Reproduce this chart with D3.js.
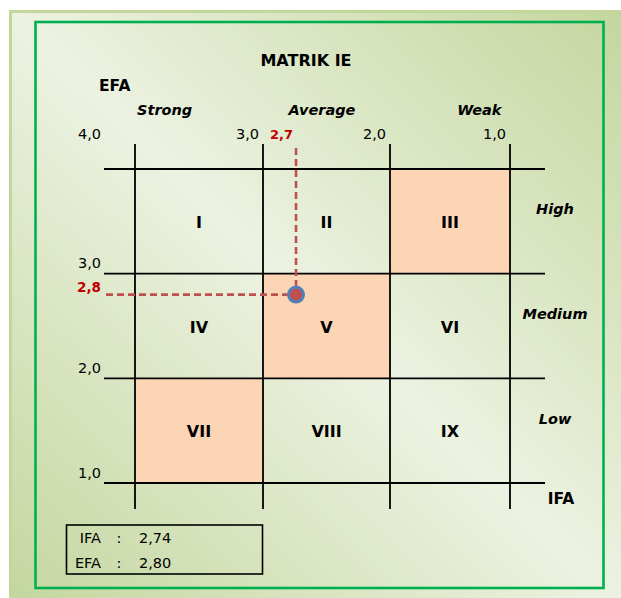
<!DOCTYPE html>
<html>
<head>
<meta charset="utf-8">
<script src="https://cdn.jsdelivr.net/npm/d3@7"></script>
<style>
  html, body { margin: 0; padding: 0; background: #ffffff; }
  svg { display: block; }
  text { font-family: "DejaVu Sans", sans-serif; fill: #000; }
</style>
</head>
<body>
<svg id="chart" width="621" height="598"></svg>
<script>
// IE matrix: IFA (internal) score across, EFA (external) score down
const columnNames = ["Strong", "Average", "Weak"];
const rowNames = ["High", "Medium", "Low"];
const cellNumerals = [
  ["I", "II", "III"],
  ["IV", "V", "VI"],
  ["VII", "VIII", "IX"]
];
const highlightedCells = ["III", "V", "VII"];
const scoreTicks = [4, 3, 2, 1];
const ifaScore = 2.74;
const efaScore = 2.80;
const titleText = "MATRIK IE";

const svg = d3.select("#chart");
const locale = d3.formatLocale({ decimal: ",", thousands: ".", grouping: [3], currency: ["Rp", ""] });
const fmt1 = locale.format(".1f");
const fmt2 = locale.format(".2f");

// Scales: scores run from 4 (left / top) to 1 (right / bottom)
const x = d3.scaleLinear().domain([4, 3, 2, 1]).range([135, 263, 390, 510]);
const y = d3.scaleLinear().domain([4, 1]).range([169, 483]);
const axisStart = 104, axisEnd = 545;
const gridTop = 144, gridBottom = 509;

// Background panel
const defs = svg.append("defs");
const grad = defs.append("linearGradient").attr("id", "panelFill")
  .attr("x1", 1).attr("y1", 0).attr("x2", 0).attr("y2", 1);
grad.append("stop").attr("offset", 0.0).attr("stop-color", "#c2d59b");
grad.append("stop").attr("offset", 0.5).attr("stop-color", "#ecf2e1");
grad.append("stop").attr("offset", 1.0).attr("stop-color", "#c2d59b");

svg.append("rect").attr("x", 10.5).attr("y", 11.5).attr("width", 640).attr("height", 620)
  .attr("fill", "url(#panelFill)").attr("stroke", "#c3d69b").attr("stroke-width", 3);
svg.append("rect").attr("x", 35.5).attr("y", 22).attr("width", 568).attr("height", 566)
  .attr("fill", "none").attr("stroke", "#00b050").attr("stroke-width", 2.6);

// Matrix cells
const cells = [];
cellNumerals.forEach((row, r) => row.forEach((name, c) => {
  cells.push({ name, x0: x(scoreTicks[c]), x1: x(scoreTicks[c + 1]), y0: y(scoreTicks[r]), y1: y(scoreTicks[r + 1]) });
}));

svg.append("g").selectAll("rect")
  .data(cells.filter(d => highlightedCells.includes(d.name)))
  .join("rect")
  .attr("x", d => d.x0).attr("y", d => d.y0)
  .attr("width", d => d.x1 - d.x0).attr("height", d => d.y1 - d.y0)
  .attr("fill", "#fcd5b5");

// Grid lines
const grid = svg.append("g").attr("stroke", "#000").attr("stroke-width", 1.8);
grid.selectAll("line.h").data(scoreTicks).join("line").attr("class", "h")
  .attr("x1", axisStart).attr("x2", axisEnd)
  .attr("y1", d => y(d)).attr("y2", d => y(d));
grid.selectAll("line.v").data(scoreTicks).join("line").attr("class", "v")
  .attr("x1", d => x(d)).attr("x2", d => x(d))
  .attr("y1", gridTop).attr("y2", gridBottom);

// Cell numerals
svg.append("g").selectAll("text").data(cells).join("text")
  .attr("x", d => (d.x0 + d.x1) / 2)
  .attr("y", d => (d.y0 + d.y1) / 2 + 6.5)
  .attr("text-anchor", "middle")
  .attr("font-size", 16).attr("font-weight", "bold")
  .text(d => d.name);

// Title and axis names
svg.append("text").attr("x", 306).attr("y", 66).attr("text-anchor", "middle")
  .attr("font-size", 16).attr("font-weight", "bold").text(titleText);
svg.append("text").attr("x", 99).attr("y", 91)
  .attr("font-size", 15.5).attr("font-weight", "bold").text("EFA");
svg.append("text").attr("x", 561).attr("y", 504).attr("text-anchor", "middle")
  .attr("font-size", 15.5).attr("font-weight", "bold").text("IFA");

// Column headers spread across the header row
const headerBand = d3.scaleBand().domain(columnNames).range([86, 558]);
svg.append("g").selectAll("text").data(columnNames).join("text")
  .attr("x", d => headerBand(d) + headerBand.bandwidth() / 2)
  .attr("y", 115).attr("text-anchor", "middle")
  .attr("font-size", 14.5).attr("font-weight", "bold").attr("font-style", "italic")
  .text(d => d);

// Row headers
svg.append("g").selectAll("text").data(rowNames).join("text")
  .attr("x", 555)
  .attr("y", (d, i) => (y(scoreTicks[i]) + y(scoreTicks[i + 1])) / 2 - 7)
  .attr("text-anchor", "middle")
  .attr("font-size", 14.5).attr("font-weight", "bold").attr("font-style", "italic")
  .text(d => d);

// Tick labels: IFA along the top, EFA down the left, shared corner at 4,0
const tickRowY = 139;
const tickLabels = svg.append("g").attr("font-size", 14.5).attr("text-anchor", "end");
tickLabels.append("text").attr("x", axisStart - 3).attr("y", tickRowY).text(fmt1(scoreTicks[0]));
tickLabels.selectAll("text.ifa").data(scoreTicks.slice(1)).join("text").attr("class", "ifa")
  .attr("x", d => x(d) - 4).attr("y", tickRowY).text(d => fmt1(d));
tickLabels.selectAll("text.efa").data(scoreTicks.slice(1)).join("text").attr("class", "efa")
  .attr("x", axisStart - 3).attr("y", d => y(d) - 5.5).text(d => fmt1(d));

// Position marker with guide lines
const px = x(ifaScore), py = y(efaScore);
const guides = svg.append("g").attr("stroke", "#c0504d").attr("stroke-width", 2.6)
  .attr("stroke-dasharray", "7,4").attr("fill", "none");
guides.append("line").attr("x1", px).attr("x2", px).attr("y1", 148).attr("y2", py);
guides.append("line").attr("x1", axisStart + 2).attr("x2", px).attr("y1", py).attr("y2", py);
svg.append("circle").attr("cx", px).attr("cy", py).attr("r", 7.5)
  .attr("fill", "#c0504d").attr("stroke", "#4f81bd").attr("stroke-width", 3);

svg.append("text").attr("x", px - 3).attr("y", tickRowY).attr("text-anchor", "end")
  .attr("font-size", 13).attr("font-weight", "bold").style("fill", "#c00000")
  .text(fmt1(ifaScore));
svg.append("text").attr("x", axisStart - 3).attr("y", py - 3).attr("text-anchor", "end")
  .attr("font-size", 13.5).attr("font-weight", "bold").style("fill", "#c00000")
  .text(fmt1(efaScore));

// Score summary box
const summary = [{ name: "IFA", value: ifaScore }, { name: "EFA", value: efaScore }];
svg.append("rect").attr("x", 66.5).attr("y", 525).attr("width", 196).attr("height", 49)
  .attr("fill", "none").attr("stroke", "#000").attr("stroke-width", 1.6);
const rows = svg.append("g").attr("font-size", 14.5).selectAll("g").data(summary).join("g")
  .attr("transform", (d, i) => `translate(0, ${543 + i * 25})`);
rows.append("text").attr("x", 101).attr("text-anchor", "end").text(d => d.name);
rows.append("text").attr("x", 119).attr("text-anchor", "middle").text(":");
rows.append("text").attr("x", 139).text(d => fmt2(d.value));
</script>
</body>
</html>
